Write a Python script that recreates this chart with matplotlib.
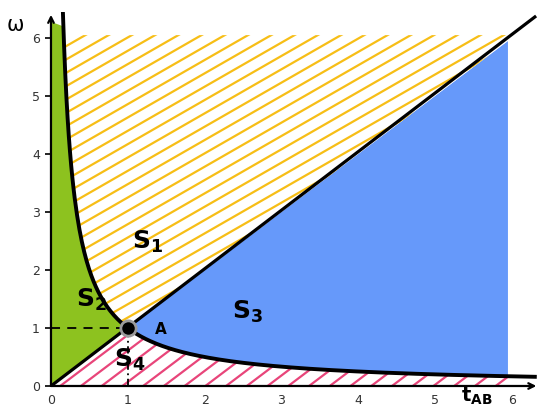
import numpy as np
from matplotlib import pyplot as plt
from matplotlib.patches import Polygon

# axis ticks
x_ticks = [0, 1, 2, 3, 4, 5, 6]
y_ticks = [0, 1, 2, 3, 4, 5, 6]

# region limits
x_right = 5.95      # right edge of S3 / S4
y_top = 6.05        # top of S1 hatch
green_top = 6.28    # top of S2 at x = 0
point_a = (1, 1)

# region labels
labels = ['S_1', 'S_2', 'S_3', 'S_4']
label_x = [1.26, 0.53, 2.56, 1.03]
label_y = [2.48, 1.48, 1.28, 0.45]

green = '#8dc21f'
blue = '#6699fa'
yellow = '#f7be16'
pink = '#e8457a'


def hyper(x0, x1, n=200):
    xs = np.linspace(x0, x1, n)
    return xs, 1.0 / xs


def hatch(ax, patch, slope, step, color):
    # parallel lines clipped to the patch
    for c in np.arange(-12, 12, step):
        xs = np.array([-1, 8])
        ln, = ax.plot(xs, slope * xs + c, color=color, lw=1.6, zorder=2)
        ln.set_clip_path(patch)


fig = plt.figure(figsize=(5.5, 4.15), dpi=100)
ax = fig.add_axes([0.0927, 0.0699, 0.8867, 0.9014])
ax.set_xlim(0, 6.35)
ax.set_ylim(0, 6.45)

# S2 green
cx, cy = hyper(1, 1 / 6.2)
green_pts = [(0, 0), (1, 1)] + list(zip(cx, cy)) + [(0, green_top)]
ax.add_patch(Polygon(green_pts, closed=True, fc=green, ec='none', zorder=1))

# S3 blue
cx, cy = hyper(x_right, 1)
blue_pts = [(1, 1), (x_right, x_right)] + list(zip(cx, cy))
ax.add_patch(Polygon(blue_pts, closed=True, fc=blue, ec='none', zorder=1))

# S1 yellow hatch
cx, cy = hyper(1, 1 / y_top)
yel_pts = list(zip(cx, cy)) + [(y_top, y_top)]
yel = Polygon(yel_pts, closed=True, fc='white', ec='none', zorder=1)
ax.add_patch(yel)
hatch(ax, yel, 0.76, 0.23, yellow)

# S4 pink hatch
cx, cy = hyper(1, x_right)
pink_pts = [(0, 0), (1, 1)] + list(zip(cx, cy)) + [(x_right, 0)]
pnk = Polygon(pink_pts, closed=True, fc='white', ec='none', zorder=1)
ax.add_patch(pnk)
hatch(ax, pnk, 1.0, 0.27, pink)

# boundaries
cx, cy = hyper(0.155, 6.3, 400)
ax.plot(cx, cy, color='black', lw=2.8, zorder=4)
ax.plot([0, 6.3], [0, 6.3 * 1.01], color='black', lw=2.3, zorder=4)

ax.plot([0, point_a[0]], [point_a[1], point_a[1]], color='black', lw=1.3,
        ls=(0, (5, 4)), zorder=3)
ax.plot([point_a[0], point_a[0]], [0, point_a[1]], color='black', lw=1.3,
        ls=(0, (4, 2, 1, 2)), zorder=3)
ax.plot(*point_a, 'o', ms=11, mfc='black', mec='#9a9a9a', mew=2, zorder=5)
ax.text(1.43, 0.97, 'A', fontsize=11, fontweight='bold', ha='center',
        va='center', zorder=6)

for lab, lx, ly in zip(labels, label_x, label_y):
    ax.text(lx, ly, r'$\mathbf{' + lab + '}$', fontsize=18, ha='center',
            va='center', zorder=6)

# axes with arrows
for s in ax.spines.values():
    s.set_visible(False)
ax.annotate('', xy=(6.32, 0), xytext=(0, 0),
            arrowprops=dict(arrowstyle='->', lw=1.6, color='black',
                            shrinkA=0, shrinkB=0), zorder=6)
ax.annotate('', xy=(0, 6.4), xytext=(0, 0),
            arrowprops=dict(arrowstyle='->', lw=1.6, color='black',
                            shrinkA=0, shrinkB=0), zorder=6)

ax.set_xticks(x_ticks)
ax.set_yticks(y_ticks)
ax.tick_params(axis='x', length=0, pad=6, labelsize=9, labelcolor='#333333')
ax.tick_params(axis='y', length=4, width=1.2, pad=4, labelsize=9,
               labelcolor='#333333')

ax.text(-0.46, 6.22, 'ω', fontsize=15, ha='center', va='center',
        clip_on=False)
ax.text(5.55, -0.17, r'$\mathbf{t_{AB}}$', fontsize=14, ha='center',
        va='center', clip_on=False)

fig.savefig('out.png', dpi=100)
